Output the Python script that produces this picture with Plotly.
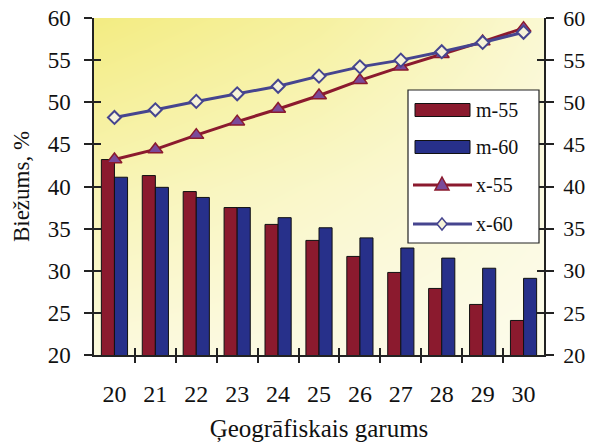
import plotly.graph_objects as go

categories = [20, 21, 22, 23, 24, 25, 26, 27, 28, 29, 30]
m55 = [43.2, 41.3, 39.4, 37.5, 35.5, 33.6, 31.7, 29.8, 27.9, 26.0, 24.1]
m60 = [41.1, 39.9, 38.7, 37.5, 36.3, 35.1, 33.9, 32.7, 31.5, 30.3, 29.1]
x55 = [43.2, 44.4, 46.1, 47.7, 49.2, 50.8, 52.6, 54.2, 55.7, 57.2, 58.8]
x60 = [48.2, 49.1, 50.1, 51.0, 51.9, 53.1, 54.2, 55.0, 56.0, 57.1, 58.3]
y_ticks = [20, 25, 30, 35, 40, 45, 50, 55, 60]
series_names = ["m-55", "m-60", "x-55", "x-60"]

SERIF = "Liberation Serif, Times New Roman, serif"
AX = "#222222"
RED = "#8b1a2e"
BLUE = "#27308a"
LBLUE = "#46458f"
TRI = "#7a4a9a"
W, H = 589, 444
ML, MR, MT, MB = 94, 45, 18, 89
PW, PH = W - ML - MR, H - MT - MB

def px(xp):
    return (xp - ML) / PW

def py(yp):
    return (H - MB - yp) / PH

xr = [categories[0] - 0.5, categories[-1] + 0.5]
bounds = [c + 0.5 for c in categories[:-1]]

fig = go.Figure()

# decorative background gradient (yellow top-left fading to pale)
fig.add_trace(go.Heatmap(
    x=[xr[0], (xr[0] + xr[1]) / 2, xr[1]], y=[20, 40, 60],
    z=[[0.12, 0.05, 0.0], [0.5, 0.3, 0.08], [1.0, 0.7, 0.22]],
    zsmooth="best", showscale=False, hoverinfo="skip",
    colorscale=[[0, "#fcfbea"], [0.5, "#f8f4b4"], [1, "#f3ec82"]],
    zmin=0, zmax=1))

fig.add_trace(go.Bar(x=categories, y=m55, name=series_names[0], showlegend=False,
                     marker=dict(color=RED, line=dict(color="#111111", width=1))))
fig.add_trace(go.Bar(x=categories, y=m60, name=series_names[1], showlegend=False,
                     marker=dict(color=BLUE, line=dict(color="#111111", width=1))))
fig.add_trace(go.Scatter(x=categories, y=x55, name=series_names[2], mode="lines+markers", showlegend=False,
                         line=dict(color=RED, width=3),
                         marker=dict(symbol="triangle-up", size=13, color=TRI, line=dict(color=RED, width=1.5))))
fig.add_trace(go.Scatter(x=categories, y=x60, name=series_names[3], mode="lines+markers", showlegend=False,
                         line=dict(color=LBLUE, width=3),
                         marker=dict(symbol="diamond", size=10, color="#f6f3d8", line=dict(color=LBLUE, width=2))))

# dummy traces to carry the overlay axes (tick crosses)
for xa, ya in [("x2", "y"), ("x3", "y"), ("x", "y2"), ("x", "y3"), ("x", "y4")]:
    fig.add_trace(go.Scatter(x=[None], y=[None], xaxis=xa, yaxis=ya, showlegend=False, hoverinfo="skip"))

# manual legend (decoration)
shapes = []
annotations = []
shapes.append(dict(type="rect", xref="paper", yref="paper", x0=px(408), x1=px(539), y0=py(243), y1=py(90),
                   fillcolor="white", line=dict(color=AX, width=1.2), layer="above"))
rows = [110, 147, 185, 224]
for i, (name, yc) in enumerate(zip(series_names, rows)):
    if i < 2:
        shapes.append(dict(type="rect", xref="paper", yref="paper", x0=px(415), x1=px(470),
                           y0=py(yc + 6.5), y1=py(yc - 6.5), fillcolor=[RED, BLUE][i],
                           line=dict(color="#111111", width=1), layer="above"))
    else:
        col = RED if i == 2 else LBLUE
        shapes.append(dict(type="line", xref="paper", yref="paper", x0=px(413), x1=px(472),
                           y0=py(yc), y1=py(yc), line=dict(color=col, width=3), layer="above"))
        if i == 2:
            path = "M-7,-5 L7,-5 L0,8 Z"
            fill, lc = TRI, RED
        else:
            path = "M0,6 L5,0 L0,-6 L-5,0 Z"
            fill, lc = "#f6f3d8", LBLUE
        shapes.append(dict(type="path", xref="paper", yref="paper", xsizemode="pixel", ysizemode="pixel",
                           xanchor=px(442), yanchor=py(yc), path=path, fillcolor=fill,
                           line=dict(color=lc, width=1.5), layer="above"))
    annotations.append(dict(xref="paper", yref="paper", x=px(474), y=py(yc), text=name, showarrow=False,
                            xanchor="left", yanchor="middle", font=dict(family=SERIF, size=20, color="#111111")))

fig.update_layout(
    width=W, height=H,
    margin=dict(l=ML, r=MR, t=MT, b=MB, autoexpand=False),
    paper_bgcolor="white", plot_bgcolor="white",
    barmode="group", bargap=0.36, bargroupgap=0.0,
    font=dict(family=SERIF, size=23, color="#111111"),
    showlegend=False,
    shapes=shapes, annotations=annotations,
    xaxis=dict(range=xr, tickvals=categories, ticktext=[str(c) for c in categories],
               ticks="", showline=True, linecolor=AX, linewidth=1.5, showgrid=False,
               zeroline=False, ticklabelstandoff=16, automargin=False,
               tickfont=dict(size=24),
               title=dict(text="Ģeogrāfiskais garums", font=dict(size=25), standoff=14)),
    xaxis2=dict(overlaying="x", range=xr, tickvals=bounds, ticks="outside", ticklen=7,
                tickcolor=AX, tickwidth=1.5, showticklabels=False, showgrid=False,
                zeroline=False, showline=False, anchor="y", automargin=False),
    xaxis3=dict(overlaying="x", range=xr, tickvals=bounds, ticks="inside", ticklen=7,
                tickcolor=AX, tickwidth=1.5, showticklabels=False, showgrid=False,
                zeroline=False, showline=False, anchor="y", automargin=False),
    yaxis=dict(range=[20, 60], tickvals=y_ticks, ticks="outside", ticklen=8,
               tickcolor=AX, tickwidth=1.5, showline=True, linecolor=AX, linewidth=1.5,
               showgrid=False, zeroline=False, ticklabelstandoff=9, automargin=False,
               tickfont=dict(size=23),
               title=dict(text="Biežums, %", font=dict(size=23), standoff=12)),
    yaxis2=dict(overlaying="y", side="right", range=[20, 60], tickvals=y_ticks,
                ticks="outside", ticklen=8, tickcolor=AX, tickwidth=1.5,
                showline=True, linecolor=AX, linewidth=1.5, showgrid=False,
                tickfont=dict(size=22),
                zeroline=False, ticklabelstandoff=5, anchor="x", automargin=False),
    yaxis3=dict(overlaying="y", side="left", range=[20, 60], tickvals=y_ticks,
                ticks="inside", ticklen=7, tickcolor=AX, tickwidth=1.5,
                showticklabels=False, showgrid=False, zeroline=False, anchor="x", automargin=False),
    yaxis4=dict(overlaying="y", side="right", range=[20, 60], tickvals=y_ticks,
                ticks="inside", ticklen=7, tickcolor=AX, tickwidth=1.5,
                showticklabels=False, showgrid=False, zeroline=False, anchor="x", automargin=False),
)

fig.write_html("out.html", config={"displayModeBar": False},
               post_script="document.body.style.margin='0';document.body.style.overflow='hidden';")
